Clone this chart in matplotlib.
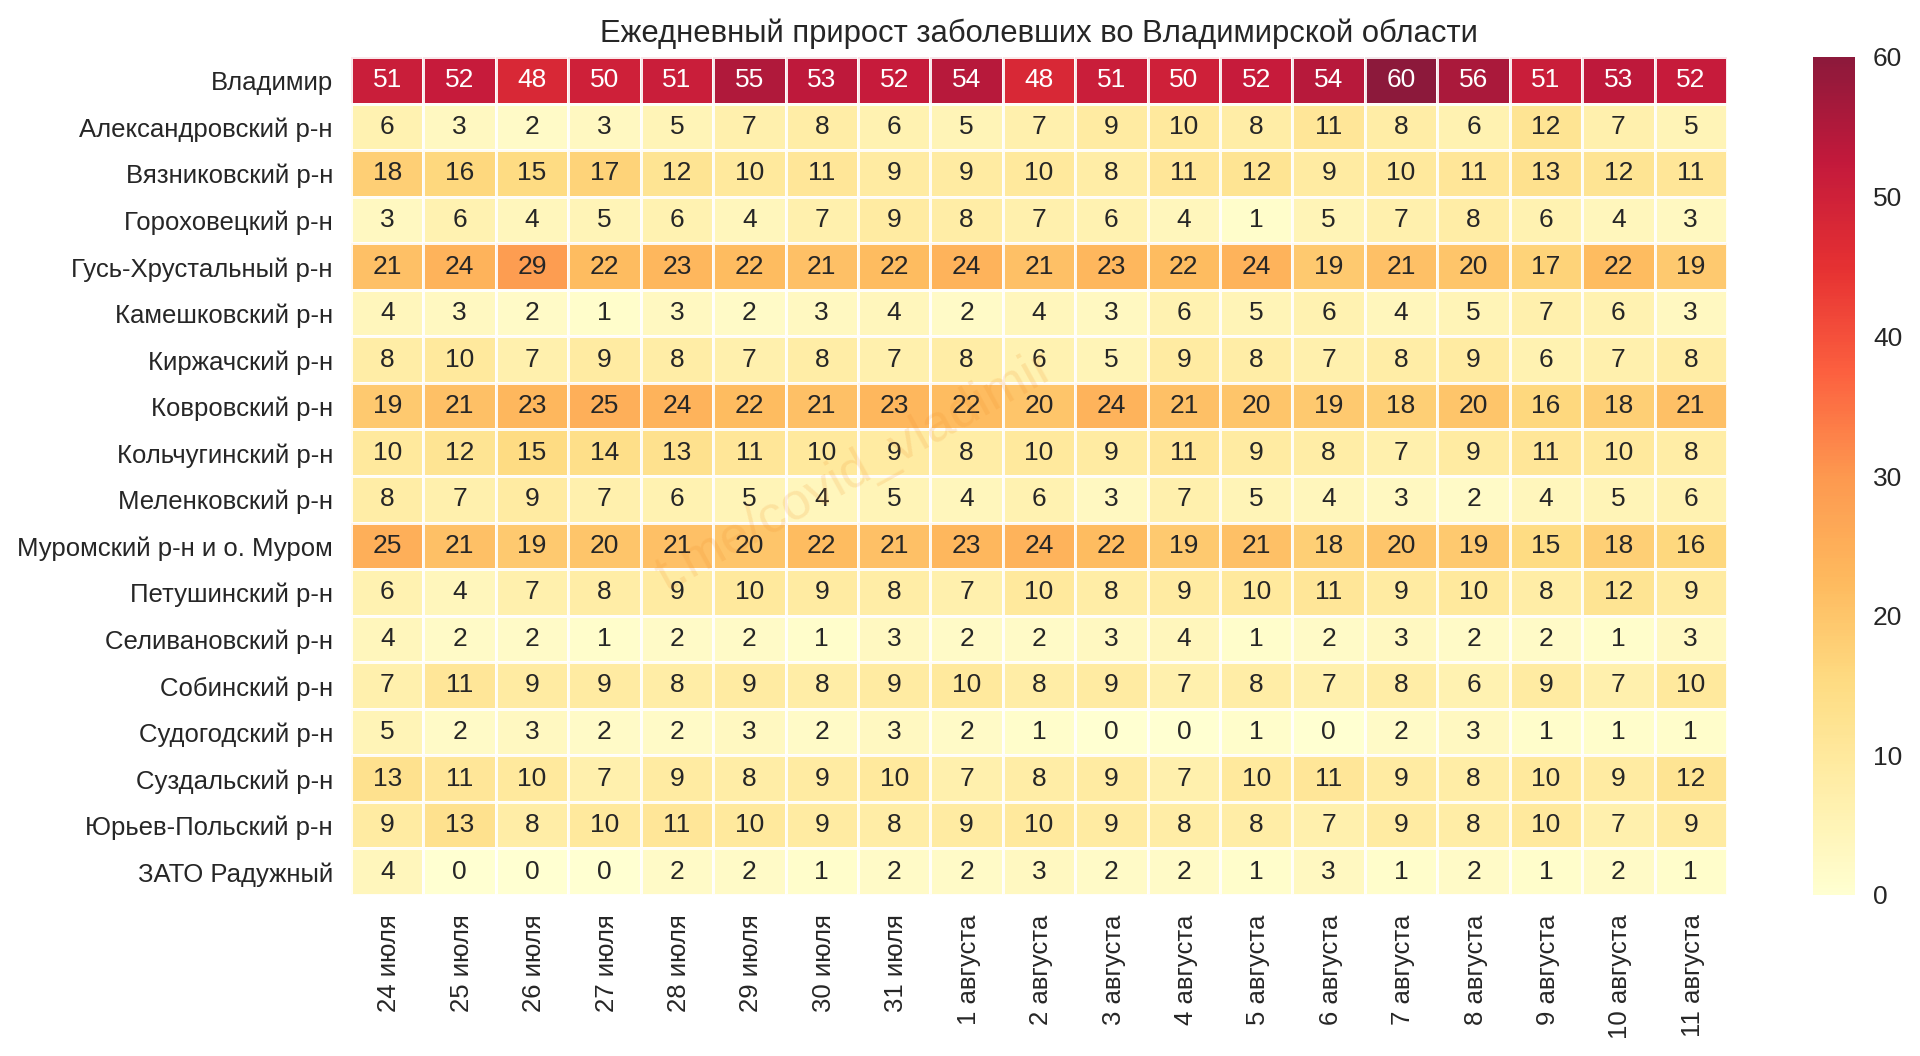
import matplotlib
matplotlib.use('Agg')
import matplotlib.pyplot as plt
from matplotlib.transforms import ScaledTranslation
import numpy as np
import pandas as pd
import seaborn as sns

regions = ['Владимир', 'Александровский р-н', 'Вязниковский р-н', 'Гороховецкий р-н',
           'Гусь-Хрустальный р-н', 'Камешковский р-н', 'Киржачский р-н', 'Ковровский р-н',
           'Кольчугинский р-н', 'Меленковский р-н', 'Муромский р-н и о. Муром',
           'Петушинский р-н', 'Селивановский р-н', 'Собинский р-н', 'Судогодский р-н',
           'Суздальский р-н', 'Юрьев-Польский р-н', 'ЗАТО Радужный']
dates = ['24 июля', '25 июля', '26 июля', '27 июля', '28 июля', '29 июля', '30 июля', '31 июля',
         '1 августа', '2 августа', '3 августа', '4 августа', '5 августа', '6 августа',
         '7 августа', '8 августа', '9 августа', '10 августа', '11 августа']

vladimir = [51, 52, 48, 50, 51, 55, 53, 52, 54, 48, 51, 50, 52, 54, 60, 56, 51, 53, 52]
aleksandrov = [6, 3, 2, 3, 5, 7, 8, 6, 5, 7, 9, 10, 8, 11, 8, 6, 12, 7, 5]
vyazniki = [18, 16, 15, 17, 12, 10, 11, 9, 9, 10, 8, 11, 12, 9, 10, 11, 13, 12, 11]
gorohovets = [3, 6, 4, 5, 6, 4, 7, 9, 8, 7, 6, 4, 1, 5, 7, 8, 6, 4, 3]
gus = [21, 24, 29, 22, 23, 22, 21, 22, 24, 21, 23, 22, 24, 19, 21, 20, 17, 22, 19]
kameshkovo = [4, 3, 2, 1, 3, 2, 3, 4, 2, 4, 3, 6, 5, 6, 4, 5, 7, 6, 3]
kirzhach = [8, 10, 7, 9, 8, 7, 8, 7, 8, 6, 5, 9, 8, 7, 8, 9, 6, 7, 8]
kovrov = [19, 21, 23, 25, 24, 22, 21, 23, 22, 20, 24, 21, 20, 19, 18, 20, 16, 18, 21]
kolchugino = [10, 12, 15, 14, 13, 11, 10, 9, 8, 10, 9, 11, 9, 8, 7, 9, 11, 10, 8]
melenki = [8, 7, 9, 7, 6, 5, 4, 5, 4, 6, 3, 7, 5, 4, 3, 2, 4, 5, 6]
murom = [25, 21, 19, 20, 21, 20, 22, 21, 23, 24, 22, 19, 21, 18, 20, 19, 15, 18, 16]
petushki = [6, 4, 7, 8, 9, 10, 9, 8, 7, 10, 8, 9, 10, 11, 9, 10, 8, 12, 9]
selivanovo = [4, 2, 2, 1, 2, 2, 1, 3, 2, 2, 3, 4, 1, 2, 3, 2, 2, 1, 3]
sobinka = [7, 11, 9, 9, 8, 9, 8, 9, 10, 8, 9, 7, 8, 7, 8, 6, 9, 7, 10]
sudogda = [5, 2, 3, 2, 2, 3, 2, 3, 2, 1, 0, 0, 1, 0, 2, 3, 1, 1, 1]
suzdal = [13, 11, 10, 7, 9, 8, 9, 10, 7, 8, 9, 7, 10, 11, 9, 8, 10, 9, 12]
yuryev = [9, 13, 8, 10, 11, 10, 9, 8, 9, 10, 9, 8, 8, 7, 9, 8, 10, 7, 9]
raduzhny = [4, 0, 0, 0, 2, 2, 1, 2, 2, 3, 2, 2, 1, 3, 1, 2, 1, 2, 1]

table = pd.DataFrame([vladimir, aleksandrov, vyazniki, gorohovets, gus, kameshkovo, kirzhach,
                      kovrov, kolchugino, melenki, murom, petushki, selivanovo, sobinka,
                      sudogda, suzdal, yuryev, raduzhny], index=regions, columns=dates)

plt.rcParams['font.family'] = ['Liberation Sans', 'DejaVu Sans']
W, H = 1920, 1056
TEXT = '#262626'


# pixel box (top-left origin) to figure fractions
def box(x0, y0, x1, y1):
    return [x0 / W, 1 - y1 / H, (x1 - x0) / W, (y1 - y0) / H]


fig = plt.figure(figsize=(W / 100, H / 100), dpi=100)
ax = fig.add_axes(box(351, 57, 1727, 895))
cax = fig.add_axes(box(1813, 57, 1855, 895))

sns.heatmap(table, ax=ax, cbar_ax=cax, cmap='YlOrRd', vmin=0, vmax=60, alpha=0.9, annot=True, fmt='d',
            annot_kws={'fontsize': 19}, linewidths=2, linecolor='white')

ax.tick_params(axis='both', length=0, labelsize=18.5, labelcolor=TEXT)
ax.tick_params(axis='x', pad=14, labelrotation=90)
ax.tick_params(axis='y', pad=13, labelrotation=0)
ax.set_title('Ежедневный прирост заболевших во Владимирской области', fontsize=22.3, color=TEXT, pad=11)

# labels sit a little off the cell centres in the original
for lab in ax.get_yticklabels():
    lab.set_transform(lab.get_transform() + ScaledTranslation(0, -2 / 72, fig.dpi_scale_trans))
for lab in ax.get_xticklabels():
    lab.set_transform(lab.get_transform() + ScaledTranslation(1.5 / 72, 0, fig.dpi_scale_trans))

cax.tick_params(length=0, labelsize=19, labelcolor=TEXT, pad=13)
cax.set_yticks(np.arange(0, 61, 10))

# watermark over the cells
fig.text(855, H - 472, 't.me/covid_vladimir', transform=None, fontsize=37.5, rotation=29,
         color='#f08a24', alpha=0.16, ha='center', va='center')

fig.savefig('out.png', dpi=100)
